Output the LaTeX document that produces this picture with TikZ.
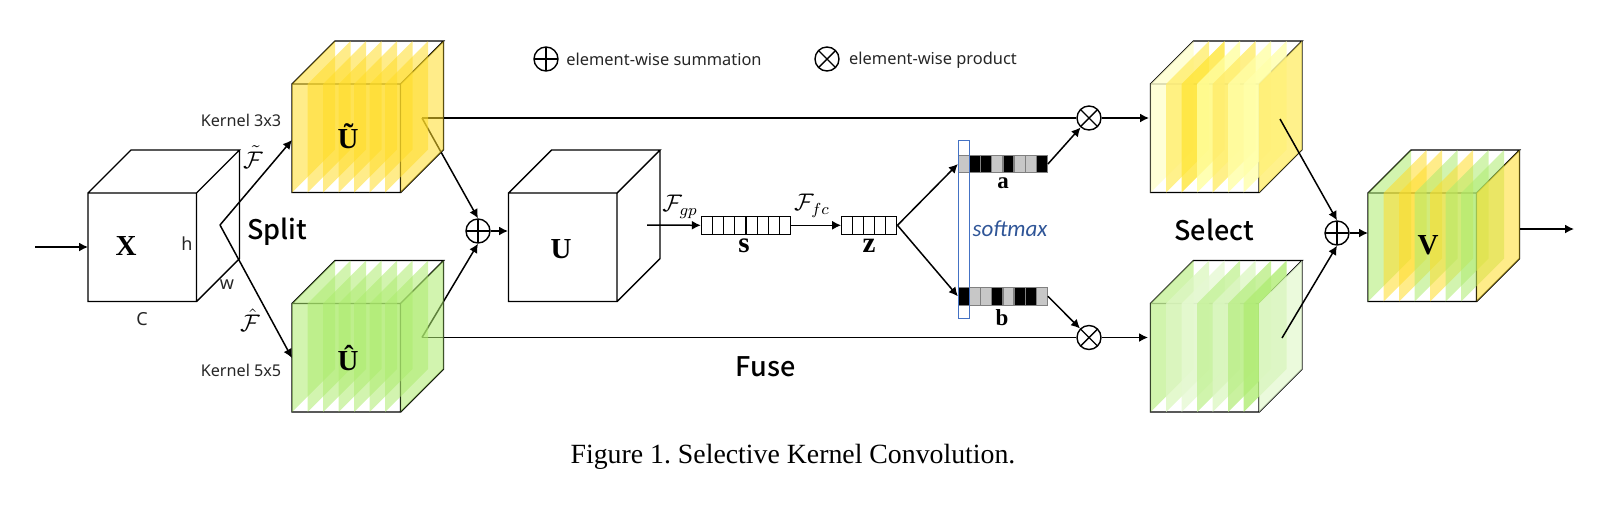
\documentclass[tikz,border=0pt]{standalone}
\usepackage{fontspec}
\setmainfont{Liberation Serif}
\setsansfont{Noto Sans}
\newfontfamily\softfont{Carlito}
\newfontfamily\stagefont{Noto Sans CJK SC Medium}
\usetikzlibrary{positioning, arrows.meta}
\definecolor{ky}{HTML}{FFDC28}
\definecolor{kz}{HTML}{FFE530}
\definecolor{kl}{HTML}{FFFF80}
\definecolor{kg}{HTML}{ADEB6E}
\definecolor{softblue}{HTML}{4472C4}
\definecolor{softtext}{HTML}{2F5597}
\tikzset{
  wire/.style={line width=0.7pt,black},
  link/.style={line width=0.75pt,->,>={Latex[length=4.5pt,width=4.5pt]}},
  plain/.style={line width=0.75pt},
  opnode/.style={circle,draw,line width=0.7pt,minimum size=12pt,inner sep=0pt},
  sumnode/.style={opnode,path picture={
    \draw[line width=0.7pt] (path picture bounding box.north) -- (path picture bounding box.south)
    (path picture bounding box.west) -- (path picture bounding box.east);}},
  prodnode/.style={opnode,path picture={
    \draw[line width=0.7pt] (path picture bounding box.north west) -- (path picture bounding box.south east)
    (path picture bounding box.north east) -- (path picture bounding box.south west);}},
  cell/.style={draw,line width=0.6pt,minimum width=5.55pt,minimum height=8.8pt,inner sep=0pt,fill=white},
  dark/.style={cell,draw=gray,fill=black},
  pale/.style={cell,draw=gray,fill=black!22},
  cubename/.style={font=\fontsize{14.5}{16}\selectfont\bfseries},
  barname/.style={font=\fontsize{11.5}{13}\selectfont\bfseries},
  small/.style={font=\sffamily\fontsize{8.1}{10}\selectfont,text=black!85},
  side/.style={font=\sffamily\fontsize{9}{11}\selectfont,text=black!85},
  keytext/.style={font=\sffamily\fontsize{8.2}{10}\selectfont,text=black!85},
  script/.style={font=\fontsize{12}{14}\selectfont,inner sep=0pt},
  stage/.style={font=\stagefont\fontsize{13.5}{15}\selectfont}
}
\newcommand{\cubewire}[2]{\draw[wire] (#1,#2) rectangle ++(108.5,108.5)
  (#1,#2) -- ++(43,-43) -- ++(108.5,0) -- ++(-43,43) ++(43,-43) -- ++(0,108.5) -- ++(-43,43);}
\newcommand{\cubelayers}[3]{\foreach \lc/\lo [count=\li from 0] in {#3}
  \fill[fill=\lc,fill opacity=\lo] ({#1+15.5*\li},#2) -- ++(43,-43) -- ++(0,108.5) -- ++(-43,43) -- cycle;}
\frenchspacing
\begin{document}
\begin{tikzpicture}[x=0.5pt,y=-0.5pt]
\useasboundingbox (0,0) rectangle (1618,505);
%%First place the nodes
\node[sumnode] (sum1) at (478,231) {};
\node[sumnode] (sum2) at (1337,233) {};
\node[prodnode] (mul1) at (1089,118) {};
\node[prodnode] (mul2) at (1089,337.5) {};
\node[sumnode] (keysum) at (546,59) {};
\node[prodnode] (keymul) at (827,59) {};
\coordinate (in) at (35,247);
\coordinate (xin) at (88,247);
\coordinate (fork) at (220,225);
\coordinate (utin) at (292,140);
\coordinate (uhin) at (292,358);
\coordinate (uttail) at (422,118);
\coordinate (uhtail) at (422,337.5);
\coordinate (uout) at (647,225);
\coordinate (uin) at (508,231);
\coordinate (topin) at (1149,118);
\coordinate (lowin) at (1148,337.5);
\coordinate (toptail) at (1280,119);
\coordinate (lowtail) at (1282,338);
\coordinate (vin) at (1368,233);
\coordinate (vtail) at (1520,229);
\coordinate (out) at (1574,229);
%%Draw the lines that run under the coloured cubes
\draw[plain] (uttail) -- (mul1);
\draw[plain] (uhtail) -- (mul2);
\draw[link] (uttail) -- (sum1.north);
\draw[link] (uhtail) -- (sum1.south);
%%Draw the cubes
\cubewire{88}{193}
\cubewire{508.5}{193}
\cubewire{292}{84}
\cubelayers{292}{84}{ky/.55,ky/.55,ky/.55,ky/.55,ky/.55,ky/.55,ky/.55,ky/.55}
\cubewire{292}{303.5}
\cubelayers{292}{303.5}{kg/.55,kg/.55,kg/.55,kg/.55,kg/.55,kg/.55,kg/.55,kg/.55}
\cubewire{1150.5}{84}
\cubelayers{1150.5}{84}{kl!40/.8,kz!70/.8,kz!95/.8,kl!75/.8,kz!72/.8,kl!70/.8,kl!66/.8,kz!70/.8}
\cubewire{1150.5}{303.5}
\cubelayers{1150.5}{303.5}{kg!70/.8,kg!42/.8,kg!30/.8,kg!72/.8,kg!41/.8,kg!83/.8,kg!96/.8,kg!30/.8}
\cubewire{1368}{193}
\cubelayers{1368}{193}{kg/.55,ky/.55,ky/.55,kg/.55,ky/.55,kg/.55,kg/.55,ky/.55}
%%Cube names and side labels
\node[cubename] (xname) at (126,246) {X};
\node[cubename] (utname) at (348,136) {Ũ};
\node[cubename] (uhname) at (348,358) {Û};
\node[cubename] (uname) at (561,249) {U};
\node[cubename] (vname) at (1428,245) {V};
\node[side] (hname) at (187,244) {h};
\node[side] (wname) at (227,285) {w};
\node[side] (cname) at (142,319) {C};
\node[small] (k3name) at (241,120) {Kernel 3x3};
\node[small] (k5name) at (241,370) {Kernel 5x5};
\node[script] (ftname) at (253,157) {$\tilde{\mathcal{F}}$};
\node[script] (fhname) at (250,320) {$\hat{\mathcal{F}}$};
\node[script] (fgpname) at (680,207) {$\mathcal{F}_{gp}$};
\node[script] (ffcname) at (812,206) {$\mathcal{F}_{fc}$};
\node[stage] (split) at (277,232) {Split};
\node[stage] (select) at (1214,230) {Select};
\node[stage] (fuse) at (765.5,367) {Fuse};
\node[keytext] (keysumtext) at (664,59) {element-wise summation};
\node[keytext] (keymultext) at (933,60) {element-wise product};
\node[font=\fontsize{13.9}{16}\selectfont] (caption) at (793,457) {Figure 1. Selective Kernel Convolution.};
%%Place the bars, cell by cell
\foreach \i in {0,...,7} \node[cell] (s\i) at ({701.4+11.15*(\i+.5)},225.3) {};
\foreach \i in {0,...,4} \node[cell] (z\i) at ({841.8+11*(\i+.5)},225.3) {};
\foreach \st [count=\i from 0] in {pale,dark,dark,pale,dark,pale,pale,dark}
  \node[\st] (a\i) at ({958.5+11.1*(\i+.5)},164) {};
\foreach \st [count=\i from 0] in {dark,pale,pale,dark,pale,dark,dark,pale}
  \node[\st] (b\i) at ({958.5+11.1*(\i+.5)},296.3) {};
\node[cubename] (sname) at (744,246) {s};
\node[cubename] (zname) at (869,246) {z};
\node[barname] (aname) at (1003,183) {a};
\node[barname] (bname) at (1002,318) {b};
\node[draw=softblue,line width=0.7pt,minimum width=5.5pt,minimum height=89pt,inner sep=0pt] (softbox) at (964,229.7) {};
\node[font=\softfont\itshape\fontsize{11.5}{13}\selectfont,text=softtext] (softname) at (1010,229) {softmax};
%%Draw the black arrows
\draw[link] (in) -- (xin);
\draw[link] (fork) -- (utin);
\draw[link] (fork) -- (uhin);
\draw[link] (sum1) -- (uin);
\draw[link] (uout) -- (s0.west);
\draw[link] (s7.east) -- (z0.west);
\draw[link] (z4.east) -- (a0.west);
\draw[link] (z4.east) -- (b0.west);
\draw[link] (a7.east) -- (mul1);
\draw[link] (b7.east) -- (mul2);
\draw[link] (mul1) -- (topin);
\draw[link] (mul2) -- (lowin);
\draw[link] (toptail) -- (sum2.north);
\draw[link] (lowtail) -- (sum2.south);
\draw[link] (sum2) -- (vin);
\draw[link] (vtail) -- (out);
\end{tikzpicture}
\end{document}
